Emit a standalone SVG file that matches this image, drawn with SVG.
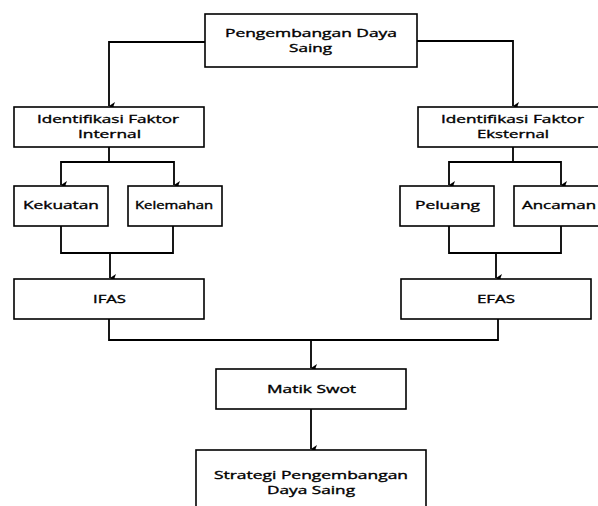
<svg xmlns="http://www.w3.org/2000/svg" width="598" height="506" viewBox="0 0 598 506">
<defs>
<marker id="ah" markerWidth="8" markerHeight="8" refX="4" refY="6" orient="auto-start-reverse" markerUnits="userSpaceOnUse" viewBox="0 0 8 8">
<path d="M0,0 L4,6 L8,0 L4,1.5 Z" fill="#000"/>
</marker>
<style>
.box{fill:#fff;stroke:#000;stroke-width:1.6}
.t{font-family:"Open Sans","Noto Sans",sans-serif;font-size:11px;fill:#000;stroke:#000;stroke-width:0.35;text-anchor:middle}
.c{fill:none;stroke:#000;stroke-width:1.8}
.a{marker-end:url(#ah)}
</style>
</defs>
<rect width="598" height="506" fill="#fff"/>
<g id="connectors">
<path class="c a" d="M205,42 H109 V106"/>
<path class="c a" d="M417,41 H513 V106"/>
<path class="c" d="M109,147 V162"/>
<path class="c a" d="M61,162 H174 M61,161.1 V185"/>
<path class="c a" d="M174,161.1 V185"/>
<path class="c" d="M513,147 V162"/>
<path class="c a" d="M449,162 H561 M449,161.1 V185"/>
<path class="c a" d="M561,161.1 V185"/>
<path class="c" d="M61,226 V253 H173 V226"/>
<path class="c a" d="M110,253 V278"/>
<path class="c" d="M449,226 V253 H561 V226"/>
<path class="c a" d="M496,253 V278"/>
<path class="c" d="M109,319 V340 H498 V319" stroke="#333"/>
<path class="c a" d="M311,340 V368"/>
<path class="c a" d="M311,409 V449"/>
</g>
<g id="n-top"><rect class="box" x="205" y="14" width="212" height="53"/><text class="t" x="311" y="37" textLength="172" lengthAdjust="spacingAndGlyphs">Pengembangan Daya</text><text class="t" x="310.5" y="52" textLength="43" lengthAdjust="spacingAndGlyphs">Saing</text></g>
<g id="n-int"><rect class="box" x="14" y="107" width="190" height="40"/><text class="t" x="108" y="123" textLength="142" lengthAdjust="spacingAndGlyphs">Identifikasi Faktor</text><text class="t" x="109.5" y="138" textLength="63" lengthAdjust="spacingAndGlyphs">Internal</text></g>
<g id="n-ext"><rect class="box" x="418" y="107" width="182" height="40"/><text class="t" x="512.5" y="123" textLength="143" lengthAdjust="spacingAndGlyphs">Identifikasi Faktor</text><text class="t" x="513" y="138" textLength="72" lengthAdjust="spacingAndGlyphs">Eksternal</text></g>
<g id="n-kek"><rect class="box" x="14" y="186" width="94" height="40"/><text class="t" x="61" y="209" textLength="76" lengthAdjust="spacingAndGlyphs">Kekuatan</text></g>
<g id="n-kel"><rect class="box" x="128" y="186" width="94" height="40"/><text class="t" x="174" y="209" textLength="78" lengthAdjust="spacingAndGlyphs" style="font-size:10px">Kelemahan</text></g>
<g id="n-pel"><rect class="box" x="400" y="186" width="94" height="40"/><text class="t" x="447.5" y="209" textLength="65" lengthAdjust="spacingAndGlyphs">Peluang</text></g>
<g id="n-anc"><rect class="box" x="514" y="186" width="90" height="40"/><text class="t" x="559" y="209" textLength="74" lengthAdjust="spacingAndGlyphs">Ancaman</text></g>
<g id="n-ifas"><rect class="box" x="14" y="279" width="190" height="40"/><text class="t" x="109.5" y="303" textLength="33" lengthAdjust="spacingAndGlyphs">IFAS</text></g>
<g id="n-efas"><rect class="box" x="401" y="279" width="190" height="40"/><text class="t" x="496" y="303" textLength="38" lengthAdjust="spacingAndGlyphs">EFAS</text></g>
<g id="n-swot"><rect class="box" x="216" y="369" width="190" height="40"/><text class="t" x="311.5" y="393" textLength="89" lengthAdjust="spacingAndGlyphs">Matik Swot</text></g>
<g id="n-str"><rect class="box" x="196" y="450" width="230" height="70"/><text class="t" x="311" y="479" textLength="194" lengthAdjust="spacingAndGlyphs">Strategi Pengembangan</text><text class="t" x="311" y="494" textLength="88" lengthAdjust="spacingAndGlyphs">Daya Saing</text></g>
</svg>
